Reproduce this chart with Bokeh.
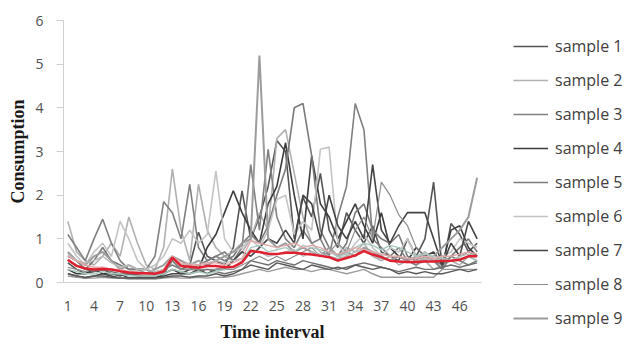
from bokeh.plotting import figure
from bokeh.models import Legend, LegendItem, FixedTicker, Range1d
from bokeh.layouts import row
from bokeh.embed import file_html
from bokeh.resources import INLINE

intervals = list(range(1, 49))
x_tick_values = list(range(1, 48, 3))
y_tick_values = [0, 1, 2, 3, 4, 5, 6]

sample_1 = [0.45,0.3,0.2,0.25,0.3,0.2,0.15,0.2,0.15,0.1,0.1,0.2,0.5,0.3,0.4,1.15,0.6,0.5,0.4,0.8,2.1,1.0,1.5,2.2,3.25,3.0,1.0,1.95,1.5,2.5,1.2,0.8,1.6,1.2,0.9,1.3,0.7,0.6,0.5,1.0,0.6,1.0,2.3,0.3,1.35,1.1,0.7,0.9]
sample_2 = [1.4,0.7,0.5,0.4,0.6,0.9,0.6,1.5,0.9,0.4,0.3,0.8,2.6,1.2,0.5,2.25,1.2,0.8,0.6,0.5,0.7,1.0,1.6,1.2,3.3,3.5,2.5,1.5,0.9,0.7,0.6,0.5,0.8,0.7,0.9,0.6,0.5,0.6,0.4,0.5,0.4,0.5,0.3,0.4,0.5,0.4,0.6,0.5]
sample_3 = [1.1,0.8,0.5,1.0,1.45,0.9,0.5,0.3,0.3,0.3,0.6,1.85,1.6,1.0,2.25,0.8,0.5,0.6,0.7,0.5,0.8,2.7,1.2,3.05,1.5,1.0,0.8,1.2,0.9,1.0,0.6,1.5,2.2,4.1,3.5,1.0,0.8,0.6,0.8,0.5,0.4,0.6,0.5,0.4,0.6,0.5,0.4,0.5]
sample_4 = [0.3,0.2,0.2,0.3,0.2,0.2,0.2,0.1,0.1,0.1,0.1,0.2,0.3,0.2,0.3,0.3,0.8,1.1,1.6,2.1,1.6,1.2,0.9,1.8,2.2,3.2,2.0,1.0,2.9,1.8,1.5,1.0,1.4,1.8,1.3,0.9,1.6,0.8,0.6,0.5,0.8,0.6,0.7,0.4,1.2,1.3,0.8,0.6]
sample_5 = [0.6,0.5,0.3,0.5,0.8,0.5,0.4,0.3,0.3,0.3,0.2,0.3,0.4,0.3,0.3,0.4,0.5,0.6,0.5,0.6,0.9,1.1,0.9,1.3,2.0,2.6,4.0,4.1,2.9,1.2,0.8,0.6,0.9,1.6,1.8,1.2,1.0,0.9,1.1,0.6,0.5,0.7,0.5,0.3,0.6,0.8,1.0,0.7]
sample_6 = [0.9,0.6,0.4,0.7,0.9,0.6,1.4,1.0,0.5,0.3,0.4,0.6,1.0,0.9,1.2,0.9,1.1,2.55,1.0,0.7,0.8,1.0,0.8,1.2,1.9,2.0,1.1,1.4,1.2,3.05,3.1,0.9,0.6,0.9,1.1,0.8,0.6,0.8,0.7,1.0,0.6,0.7,0.5,0.6,0.7,1.0,0.9,0.8]
sample_7 = [0.2,0.15,0.1,0.15,0.2,0.15,0.1,0.1,0.1,0.1,0.1,0.15,0.2,0.2,0.2,0.3,0.2,0.3,0.3,0.5,0.7,0.6,0.8,1.0,0.9,1.2,0.9,2.0,1.8,1.0,2.0,1.3,1.0,1.4,1.0,2.7,1.2,0.9,1.3,1.6,1.6,1.6,1.0,0.4,0.9,0.6,1.4,1.0]
sample_8 = [0.35,0.3,0.25,0.3,0.35,0.3,0.25,0.2,0.2,0.2,0.2,0.2,0.5,0.3,0.3,0.3,0.3,0.3,0.3,0.3,0.4,0.5,0.6,0.5,0.6,0.5,0.6,0.7,0.8,0.6,0.7,0.9,0.7,1.2,1.5,1.0,2.3,2.0,1.55,1.3,0.8,0.6,0.5,0.6,0.5,0.6,0.7,0.6]
sample_9 = [0.7,0.5,0.4,0.6,0.7,0.5,0.3,0.4,0.3,0.2,0.3,0.4,0.6,0.5,0.4,0.5,0.4,0.5,0.6,0.7,0.9,1.0,5.2,1.0,0.8,0.9,0.7,0.8,0.7,0.6,0.8,0.6,0.7,0.6,0.8,0.7,0.6,0.5,0.6,0.5,0.6,0.5,0.6,0.8,1.0,1.2,1.5,2.4]
sample_10 = [0.15,0.12,0.1,0.1,0.12,0.1,0.1,0.08,0.08,0.08,0.08,0.1,0.12,0.1,0.1,0.12,0.1,0.12,0.12,0.15,0.2,0.25,0.3,0.25,0.3,0.35,0.3,0.3,0.25,0.3,0.3,0.25,0.2,0.25,0.3,0.2,0.12,0.12,0.12,0.12,0.12,0.12,0.12,0.3,0.3,0.3,0.3,0.3]
sample_11 = [0.5,0.4,0.3,0.25,0.3,0.25,0.2,0.2,0.18,0.15,0.15,0.2,0.3,0.25,0.2,0.25,0.3,0.25,0.2,0.25,0.3,0.5,0.45,0.4,0.5,0.45,0.4,0.5,0.45,0.4,0.35,0.3,0.35,0.4,0.45,0.4,0.35,0.3,0.25,0.3,0.35,0.3,0.3,0.35,0.4,0.35,0.4,0.45]
sample_12 = [0.65,0.5,0.45,0.5,0.6,0.45,0.35,0.4,0.3,0.3,0.25,0.3,0.55,0.4,0.45,0.4,0.45,0.5,0.45,0.5,0.55,0.75,0.7,0.6,0.65,0.7,0.75,0.6,0.7,0.65,0.6,0.55,0.6,0.7,0.75,0.6,0.55,0.5,0.5,0.45,0.5,0.55,0.5,0.55,0.5,0.6,0.65,0.6]
sample_13 = [0.3,0.25,0.2,0.2,0.25,0.2,0.2,0.15,0.15,0.15,0.15,0.2,0.3,0.25,0.2,0.25,0.2,0.25,0.3,0.35,0.5,0.8,0.85,0.7,0.75,0.8,0.7,0.85,0.8,0.75,0.7,0.6,0.65,0.8,0.9,0.85,0.75,0.85,0.8,0.7,0.6,0.65,0.6,0.55,0.5,0.55,0.6,0.5]
sample_14 = [0.6,0.5,0.4,0.35,0.35,0.3,0.3,0.25,0.25,0.2,0.2,0.3,0.6,0.45,0.4,0.4,0.45,0.45,0.4,0.45,0.55,0.95,0.9,0.85,0.8,0.85,0.9,0.8,0.85,0.8,0.7,0.65,0.7,0.8,0.75,0.7,0.65,0.6,0.6,0.55,0.55,0.6,0.55,0.6,0.6,0.65,0.7,0.65]
sample_15 = [0.2,0.15,0.12,0.15,0.15,0.12,0.1,0.1,0.1,0.1,0.1,0.12,0.15,0.15,0.12,0.15,0.15,0.2,0.15,0.2,0.3,0.4,0.35,0.3,0.45,0.4,0.35,0.3,0.4,0.35,0.3,0.35,0.3,0.4,0.35,0.3,0.35,0.3,0.2,0.25,0.2,0.25,0.2,0.2,0.25,0.3,0.25,0.3]
average = [0.52,0.38,0.32,0.30,0.31,0.30,0.26,0.23,0.21,0.21,0.20,0.25,0.57,0.38,0.36,0.34,0.38,0.38,0.35,0.36,0.46,0.72,0.70,0.66,0.65,0.68,0.68,0.66,0.64,0.61,0.58,0.50,0.56,0.62,0.72,0.64,0.58,0.50,0.48,0.47,0.47,0.48,0.48,0.49,0.50,0.52,0.60,0.60]

legend_labels = ["sample 1", "sample 2", "sample 3", "sample 4", "sample 5",
                 "sample 6", "sample 7", "sample 8", "sample 9"]

series = [sample_1, sample_2, sample_3, sample_4, sample_5, sample_6, sample_7,
          sample_8, sample_9, sample_10, sample_11, sample_12, sample_13, sample_14, sample_15]
colors = ["#555555", "#b0b0b0", "#808080", "#3c3c3c", "#7a7a7a", "#c4c4c4", "#444444",
          "#8c8c8c", "#9c9c9c", "#9a9a9a", "#6e6e6e", "#b8b8b8", "#a8c8c0", "#e3a8a8", "#5a5a5a"]
widths = [1.6, 1.6, 1.6, 1.6, 1.6, 1.6, 1.6, 1.2, 2.0, 1.4, 1.4, 1.4, 1.4, 1.4, 1.4]

# ---- main chart ----
p = figure(width=499, height=344, output_backend="svg", toolbar_location=None,
           x_range=Range1d(0.5, 48.5), y_range=Range1d(0, 6),
           min_border_left=63, min_border_right=18, min_border_top=20, min_border_bottom=62)
p.outline_line_color = None
p.xgrid.visible = False
p.ygrid.visible = False
p.background_fill_color = "white"
p.border_fill_color = "white"

for vals, c, w in zip(series, colors, widths):
    p.line(intervals, vals, line_color=c, line_width=w)
p.line(intervals, average, line_color="#e02030", line_width=2.5)

xa = p.xaxis[0]
xa.ticker = FixedTicker(ticks=x_tick_values)
xa.axis_line_color = "#d0d0d0"
xa.major_tick_line_color = None
xa.minor_tick_line_color = None
xa.major_label_text_font = "Open Sans"
xa.major_label_text_font_size = "14px"
xa.major_label_text_color = "#505050"
xa.major_label_standoff = 12
xa.axis_label = "Time interval"
xa.axis_label_text_font = "Liberation Serif"
xa.axis_label_text_font_style = "bold"
xa.axis_label_text_font_size = "18px"
xa.axis_label_text_color = "#1a1a1a"
xa.axis_label_standoff = 8

ya = p.yaxis[0]
ya.ticker = FixedTicker(ticks=y_tick_values)
ya.axis_line_color = "#d0d0d0"
ya.major_tick_line_color = "#d0d0d0"
ya.major_tick_out = 7
ya.major_tick_in = 0
ya.minor_tick_line_color = None
ya.major_label_text_font = "Open Sans"
ya.major_label_text_font_size = "14px"
ya.major_label_text_color = "#505050"
ya.major_label_standoff = 13
ya.axis_label = "Consumption"
ya.axis_label_text_font = "Liberation Serif"
ya.axis_label_text_font_style = "bold"
ya.axis_label_text_font_size = "18px"
ya.axis_label_text_color = "#1a1a1a"
ya.axis_label_standoff = 4

# ---- legend panel ----
pl = figure(width=139, height=344, output_backend="svg", toolbar_location=None,
            x_axis_type=None, y_axis_type=None,
            x_range=Range1d(0, 1), y_range=Range1d(0, 1),
            min_border_left=0, min_border_right=0, min_border_top=0, min_border_bottom=0)
pl.outline_line_color = None
pl.xgrid.visible = False
pl.ygrid.visible = False
pl.background_fill_color = "white"
pl.border_fill_color = "white"

nan = float("nan")
items = []
for i in range(9):
    r = pl.line([nan, nan], [nan, nan], line_color=colors[i], line_width=widths[i])
    items.append(LegendItem(label=legend_labels[i], renderers=[r]))

legend = Legend(items=items, location="top_left")
legend.label_text_font = "Open Sans"
legend.label_text_font_size = "16px"
legend.label_text_color = "#404040"
legend.glyph_width = 35
legend.glyph_height = 24
legend.label_height = 24
legend.spacing = 10
legend.label_standoff = 7
legend.padding = 0
legend.margin = 14
legend.border_line_color = None
legend.background_fill_alpha = 0
pl.add_layout(legend, "left")

layout = row(p, pl)
open("out.html", "w").write(file_html(layout, INLINE))
